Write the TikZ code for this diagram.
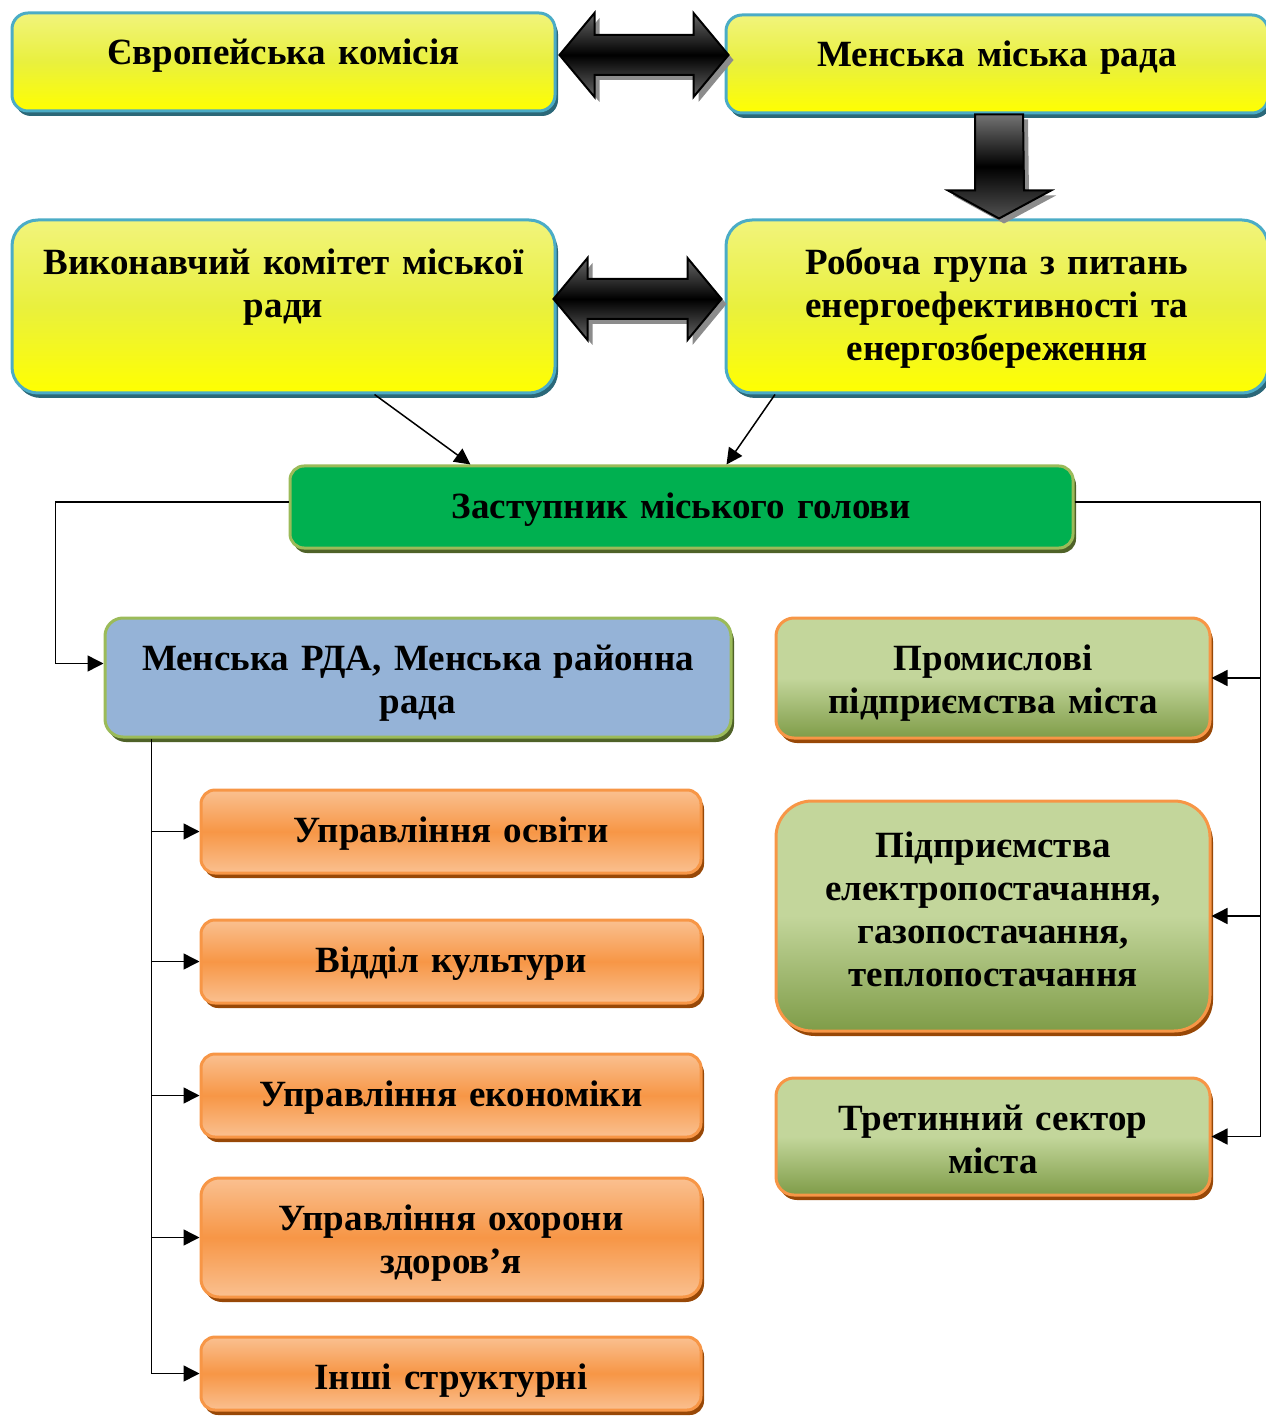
\documentclass[tikz,border=0pt]{standalone}
\usepackage{fontspec}
\setmainfont{Liberation Serif}
\usetikzlibrary{positioning,calc,shadows,arrows.meta}

\definecolor{ytop}{HTML}{F1F47C}
\definecolor{ymid}{HTML}{E9F03E}
\definecolor{ybot}{HTML}{FFFF00}
\definecolor{ybord}{HTML}{4BACC6}
\definecolor{ysh}{HTML}{2B6879}
\definecolor{gfill}{HTML}{00B050}
\definecolor{gbord}{HTML}{9BBB59}
\definecolor{gsh}{HTML}{4F6228}
\definecolor{bfill}{HTML}{95B3D7}
\definecolor{otop}{HTML}{C3D69B}
\definecolor{obot}{HTML}{7F9C48}
\definecolor{obord}{HTML}{F79646}
\definecolor{osh}{HTML}{984807}
\definecolor{rlight}{HTML}{FAC090}
\definecolor{rmid}{HTML}{F79646}

\newcommand{\boxfont}{\fontsize{18.5}{21.5}\selectfont\bfseries}

\tikzset{
  bx/.style 2 args={rectangle, inner sep=0pt, text width=#1, text height=26pt, text depth=#2, align=center, font=\boxfont, line width=1.5pt},
  yb/.style 2 args={bx={#1}{#2}, rounded corners=8pt, draw=ybord, top color=ytop, bottom color=ybot, middle color=ymid, drop shadow={shadow xshift=1.5pt, shadow yshift=-2.5pt, fill=ysh, opacity=1}},
  gb/.style 2 args={bx={#1}{#2}, rounded corners=7pt, draw=gbord, fill=gfill, drop shadow={shadow xshift=1.5pt, shadow yshift=-2.5pt, fill=gsh, opacity=1}},
  bb/.style 2 args={bx={#1}{#2}, rounded corners=9pt, draw=gbord, fill=bfill, drop shadow={shadow xshift=1.5pt, shadow yshift=-2.5pt, fill=gsh, opacity=1}},
  ob/.style 2 args={bx={#1}{#2}, rounded corners=9pt, draw=obord, top color=otop, bottom color=obot, middle color=otop, drop shadow={shadow xshift=1.5pt, shadow yshift=-2.5pt, fill=osh, opacity=1}},
  rb/.style 2 args={bx={#1}{#2}, rounded corners=7pt, draw=rmid, top color=rlight, bottom color=rlight, middle color=rmid, drop shadow={shadow xshift=1.5pt, shadow yshift=-2.5pt, fill=osh, opacity=1}},
  blk/.style={draw=black, line width=1pt, top color=black!60, bottom color=black!60, middle color=black, drop shadow={shadow xshift=2.5pt, shadow yshift=-2.5pt, fill=black!45, opacity=1}},
  conn/.style={line width=0.75pt}
}

\begin{document}
\begin{tikzpicture}[x=0.5pt, y=-0.5pt, >={Triangle[length=8pt,width=8pt]}]
	\useasboundingbox (0,0) rectangle (1265,1416);

	% top row
	\node[yb={271.5pt}{23pt}] (evk) at (283.5,62) {Європейська комісія};
	\node[yb={271pt}{23pt}] (mmr) at (997,64) {Менська міська рада};

	\node[yb={271.5pt}{59pt}, text height=27.5pt, rounded corners=13pt] (vyk) at (283.5,306.5) {Виконавчий комітет міської\\ ради};
	\node[yb={271pt}{59pt}, text height=27.5pt, rounded corners=13pt] (rob) at (997,306.5) {Робоча група з питань\\ енергоефективності та\\ енергозбереження};

	\node[gb={391.5pt}{15pt}] (zast) at (681.5,507) {Заступник міського голови};

	% left column
	\node[bb={313pt}{33.5pt}] (rda) at (418,677.5) {Менська РДА, Менська районна\\ рада};
	\node[rb={250pt}{15.5pt}] (osv) at (451,831.5) {Управління освіти};
	\node[rb={250pt}{15.5pt}] (kult) at (451,961.5) {Відділ культури};
	\node[rb={250pt}{15.5pt}] (ekon) at (451,1095.5) {Управління економіки};
	\node[rb={250pt}{33.5pt}, rounded corners=9pt] (zdor) at (451,1237.5) {Управління охорони\\ здоров’я};
	\node[rb={250pt}{10.5pt}] (inshi) at (451,1373.5) {Інші структурні};

	% right column
	\node[ob={217pt}{34pt}] (prom) at (993,678) {Промислові\\ підприємства міста};
	\node[ob={217pt}{87pt}, text height=28pt, rounded corners=18pt] (pidpr) at (993,916) {Підприємства\\ електропостачання,\\ газопостачання,\\ теплопостачання};
	\node[ob={217pt}{32.5pt}] (tret) at (993,1136.5) {Третинний сектор\\ міста};

	% block arrows
	\coordinate (t1a) at ($(evk.east)+(3,-7)$);
	\coordinate (t1b) at ($(mmr.west)+(4,-9)$);
	\draw[blk] (t1a) -- ++(35,-42) -- ++(0,22) -- ($(t1b)+(-35,-20)$) -- ++(0,-22) -- (t1b)
		-- ++(-35,42) -- ++(0,-22) -- ($(t1a)+(35,20)$) -- ++(0,22) -- cycle;

	\coordinate (t2a) at ($(vyk.east)+(-3,-7.5)$);
	\coordinate (t2b) at ($(rob.west)+(-3,-7.5)$);
	\draw[blk] (t2a) -- ++(34,-41) -- ++(0,21) -- ($(t2b)+(-34,-20)$) -- ++(0,-21) -- (t2b)
		-- ++(-34,41) -- ++(0,-21) -- ($(t2a)+(34,20)$) -- ++(0,21) -- cycle;

	\draw[blk, top color=black!55, bottom color=black!68, middle color=black]
		($(mmr.south)+(-22,0)$) -- ($(rob.north)+(-22,-28)$) -- ++(-27,0) -- ($(rob.north)+(2,0)$)
		-- ++(52,-28) -- ++(-27,0) -- ($(mmr.south)+(26,0)$) -- cycle;

	% connectors
	\draw[conn,->] ($(vyk.south)+(91,0)$) -- ($(zast.north)+(-211,0)$);
	\draw[conn,->] ($(rob.south)+(-222,0)$) -- ($(zast.north)+(45,0)$);

	\draw[conn,->] ($(zast.west)+(0,-5)$) -- ++(-233,0) |- ($(rda.west)+(0,-14)$);

	\coordinate (rbus) at ($(zast.east)+(186,-5)$);
	\draw[conn,->] ($(zast.east)+(0,-5)$) -- (rbus) |- (tret.east);
	\draw[conn,->] (rbus |- prom.east) -- (prom.east);
	\draw[conn,->] (rbus |- pidpr.east) -- (pidpr.east);

	\coordinate (lbus) at ($(rda.south west)+(48,0)$);
	\draw[conn,->] (lbus) |- (inshi.west);
	\foreach \b in {osv,kult,ekon,zdor}
		\draw[conn,->] (lbus |- \b.west) -- (\b.west);
\end{tikzpicture}
\end{document}
